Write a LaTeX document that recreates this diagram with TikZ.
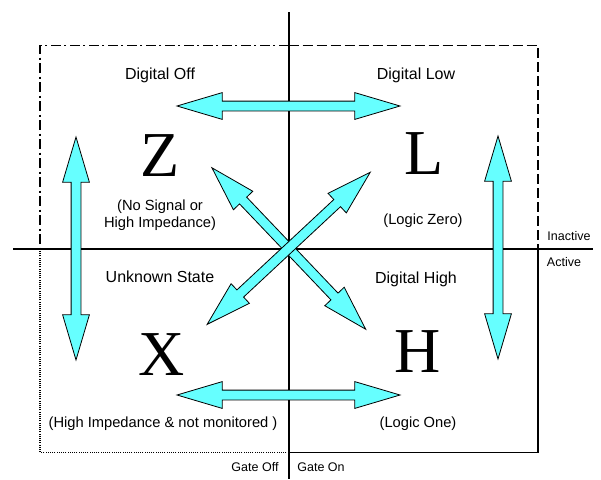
\documentclass[tikz,border=0pt]{standalone}
\usepackage{fontspec}
\setmainfont{Liberation Sans}
\newfontfamily\statefont{Liberation Serif}
\usetikzlibrary{shapes, arrows, positioning}
\definecolor{statecyan}{HTML}{66FFFF}

\begin{document}
\begin{tikzpicture}[x=1pt, y=-1pt]
        % Define styles
        \tikzstyle{twoway} = [double arrow, draw=black, line width=0.8pt, fill=statecyan, minimum height=223pt, inner xsep=0pt, inner ysep=4.5pt, double arrow head extend=8.5pt, double arrow tip angle=33]
        \tikzstyle{letter} = [anchor=base, inner sep=0pt, font=\statefont\fontsize{64}{64}\selectfont]
        \tikzstyle{label} = [inner sep=0pt, font=\fontsize{16}{18}\selectfont]
        \tikzstyle{note} = [inner sep=0pt, align=center, font=\fontsize{14.7}{17}\selectfont]
        \tikzstyle{side} = [inner sep=0pt, font=\fontsize{12.5}{14}\selectfont]
        \tikzstyle{axis} = [line width=2pt]
        \tikzstyle{edge} = [line width=1.5pt]

        \useasboundingbox (0,0) rectangle (601,479);

        % Corners
        \coordinate (O) at (288.5,249.3);
        \coordinate (tl) at (40,45.7);
        \coordinate (br) at (538,452.3);
        \coordinate (top) at (288.5,12);
        \coordinate (bottom) at (288.5,479);
        \coordinate (left) at (13,249.3);
        \coordinate (right) at (593,249.3);

        % Quadrant borders
        \draw [edge, dash pattern=on 10pt off 3.5pt on 2pt off 3.5pt] (O |- tl) -| (tl |- O);
        \draw [edge, dash pattern=on 10pt off 4pt] (O |- tl) -| (br |- O);
        \draw [edge] (br |- O) |- (O |- br);
        \draw [edge, dash pattern=on 1pt off 1.2pt] (O |- br) -| (tl |- O);

        % Axes
        \draw [axis] (top) -- (bottom);
        \draw [axis] (left) -- (right);

        % States
        \node [letter] (Z) at (160,176) {Z};
        \node [letter] (L) at (424,174) {L};
        \node [letter] (X) at (162,375) {X};
        \node [letter] (H) at (417.5,372) {H};

        % Labels
        \node [label] (off) at (160,75) {Digital Off};
        \node [label] (low) at (416,75) {Digital Low};
        \node [label] (unknown) at (160,276.5) {Unknown State};
        \node [label] (high) at (416,279) {Digital High};
        \node [note] (znote) at (160,215.5) {(No Signal or\\High Impedance)};
        \node [note] (lnote) at (423,221) {(Logic Zero)};
        \node [note] (xnote) at (163,424) {(High Impedance \& not monitored )};
        \node [note] (hnote) at (418,424) {(Logic One)};
        \node [side] (inactive) at (569,236) {Inactive};
        \node [side] (active) at (564,262.5) {Active};
        \node [side] (gateoff) at (255,467) {Gate Off};
        \node [side] (gateon) at (321,467) {Gate On};

        % Transitions
        \node [twoway] (ZL) at (288.5,106) {};
        \node [twoway] (XH) at (288.5,395) {};
        \node [twoway, rotate=90] (ZX) at (76,248.5) {};
        \node [twoway, rotate=90] (LH) at (498,247.5) {};
        \node [twoway, rotate=-46.4] (ZH) at (288.8,248.5) {};
        \node [twoway, rotate=43] (LX) at (288.7,248.3) {};
\end{tikzpicture}
\end{document}
